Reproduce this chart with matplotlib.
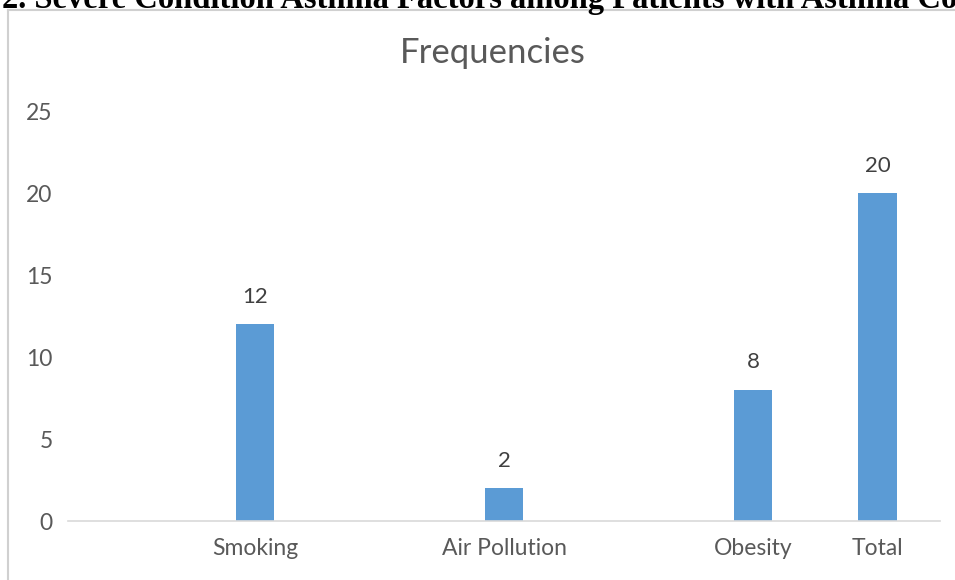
import matplotlib
matplotlib.use("Agg")
import matplotlib.pyplot as plt
from matplotlib.lines import Line2D

categories = ["", "Smoking", "", "Air Pollution", "", "Obesity", "Total"]
values = [None, 12, None, 2, None, 8, 20]
yticks = [0, 5, 10, 15, 20, 25]

fig = plt.figure(figsize=(9.55, 5.8), dpi=100)
fig.patch.set_facecolor("white")
ax = fig.add_axes([68/955, 1-521/580, (940-68)/955, (521-111)/580])

font = "Lato"
gray = "#595959"
x = list(range(len(categories)))
for xi, v in zip(x, values):
    if v is None:
        continue
    ax.bar(xi, v, width=0.31, color="#5b9bd5", zorder=2)
    ax.annotate(str(v), (xi, v), xytext=(0, 12.5), textcoords="offset points",
                ha="center", va="bottom", fontsize=16, color="#404040", family=font)

ax.set_xlim(-0.5, len(categories)-0.5)
ax.set_ylim(0, 25)
ax.set_yticks(yticks)
ax.set_xticks(x)
ax.set_xticklabels(categories)
for s in ["top", "right", "left"]:
    ax.spines[s].set_visible(False)
ax.spines["bottom"].set_color("#d9d9d9")
ax.spines["bottom"].set_linewidth(1.2)
ax.tick_params(length=0, labelsize=16.5, colors=gray, pad=12)
ax.tick_params(axis="y", pad=11)
for lab in ax.get_xticklabels() + ax.get_yticklabels():
    lab.set_family(font)
    lab.set_color(gray)

fig.text(493/955, 1-53/580, "Frequencies", ha="center", va="center",
         fontsize=25, color=gray, family=font)

fig.text(2/955, 1-8/580, "2. Severe Condition Asthma Factors among Patients with Asthma Condition",
         ha="left", va="baseline", fontsize=23.5, fontweight="bold",
         family="Liberation Serif", color="black")

fig.add_artist(Line2D([8/955, 8/955], [0, 1-10/580], transform=fig.transFigure,
                      color="#d0d0d0", lw=1.5))
fig.add_artist(Line2D([8/955, 1], [1-10/580, 1-10/580], transform=fig.transFigure,
                      color="#d0d0d0", lw=1.5))

fig.savefig("out.png", dpi=100, facecolor="white")
